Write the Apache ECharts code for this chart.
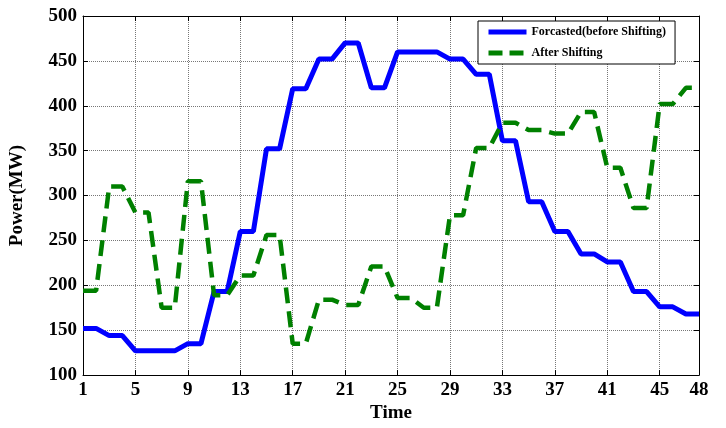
<!DOCTYPE html>
<html><head><meta charset="utf-8">
<script src="https://cdn.jsdelivr.net/npm/echarts@6/dist/echarts.min.js"></script>
<style>html,body{margin:0;padding:0;background:#fff}#c{width:726px;height:428px}</style>
</head><body><div id="c"></div>
<script>
const categories = Array.from({length:48},(_, i)=>String(i+1));
const forecasted = [152,152,144,144,127,127,127,127,135,135,193,193,260,260,352,352,419,419,452,452,470,470,420,420,460,460,460,460,452,452,435,435,361,361,293,293,260,260,235,235,226,226,193,193,176,176,168,168];
const afterShifting = [194,194,310,310,281,281,175,175,316,316,189,189,211,211,256,256,135,135,184,184,178,178,221,221,186,186,175,175,278,278,353,353,381,381,373,373,369,369,393,393,331,331,286,286,402,402,420,420];
const seriesNames = ['Forcasted(before Shifting)','After Shifting'];
const yTicks = {min:100, max:500, interval:50};

const font = 'Liberation Serif, Times New Roman, serif';
const showIdx = (i)=> i%4===0 || i===47;
const chart = echarts.init(document.getElementById('c'), null, {renderer:'canvas'});
const gridLine = {show:true, lineStyle:{color:'#777', type:[1,1], width:1}};
chart.setOption({
  animation:false,
  backgroundColor:'#fff',
  grid:{left:80, right:27, top:16, bottom:41},
  legend:{
    data:[
      {name:seriesNames[0], itemStyle:{opacity:0}, lineStyle:{color:'#0000ff', width:5, type:'solid'}},
      {name:seriesNames[1], itemStyle:{opacity:0}, lineStyle:{color:'#008000', width:5, type:[14,7]}}
    ],
    orient:'vertical', left:478, top:21,
    backgroundColor:'#fff', borderColor:'#000', borderWidth:1, borderRadius:0,
    padding:[5,9,5,8], itemWidth:38, itemHeight:12, itemGap:9,
    textStyle:{fontFamily:font, fontWeight:'bold', fontSize:12, color:'#000'}
  },
  xAxis:[{
    type:'category', data:categories, boundaryGap:false,
    name:'Time', nameLocation:'middle', nameGap:24,
    nameTextStyle:{fontFamily:font, fontWeight:'bold', fontSize:19, color:'#000'},
    axisLine:{lineStyle:{color:'#000', width:1}},
    axisTick:{inside:true, length:5, interval:(i)=>showIdx(i), lineStyle:{color:'#000'}},
    axisLabel:{interval:(i)=>showIdx(i), fontFamily:font, fontWeight:'bold', fontSize:19, color:'#000', margin:5},
    splitLine:{show:true, interval:(i)=>showIdx(i), lineStyle:{color:'#777', type:[1,1], width:1}}
  },{
    type:'category', data:categories, boundaryGap:false, position:'top',
    axisLine:{lineStyle:{color:'#000', width:1}},
    axisTick:{inside:true, length:5, interval:(i)=>showIdx(i), lineStyle:{color:'#000'}},
    axisLabel:{show:false}, splitLine:{show:false}
  }],
  yAxis:[{
    type:'value', min:yTicks.min, max:yTicks.max, interval:yTicks.interval,
    name:'Power(MW)', nameLocation:'middle', nameGap:56,
    nameTextStyle:{fontFamily:font, fontWeight:'bold', fontSize:19, color:'#000'},
    axisLine:{show:true, lineStyle:{color:'#000', width:1}},
    axisTick:{show:true, inside:true, length:5, lineStyle:{color:'#000'}},
    axisLabel:{fontFamily:font, fontWeight:'bold', fontSize:19, color:'#000', margin:6},
    splitLine:gridLine
  },{
    type:'value', min:yTicks.min, max:yTicks.max, interval:yTicks.interval, position:'right',
    axisLine:{show:true, lineStyle:{color:'#000', width:1}},
    axisTick:{show:true, inside:true, length:5, lineStyle:{color:'#000'}},
    axisLabel:{show:false}, splitLine:{show:false}
  }],
  series:[{
    name:seriesNames[0], type:'line', data:forecasted, symbol:'none',
    lineStyle:{color:'#0000ff', width:5}, itemStyle:{color:'#0000ff'}, z:3
  },{
    name:seriesNames[1], type:'line', data:afterShifting, symbol:'none',
    lineStyle:{color:'#008000', width:4.5, type:[16,8]}, itemStyle:{color:'#008000'}, z:4
  }]
});
</script></body></html>
